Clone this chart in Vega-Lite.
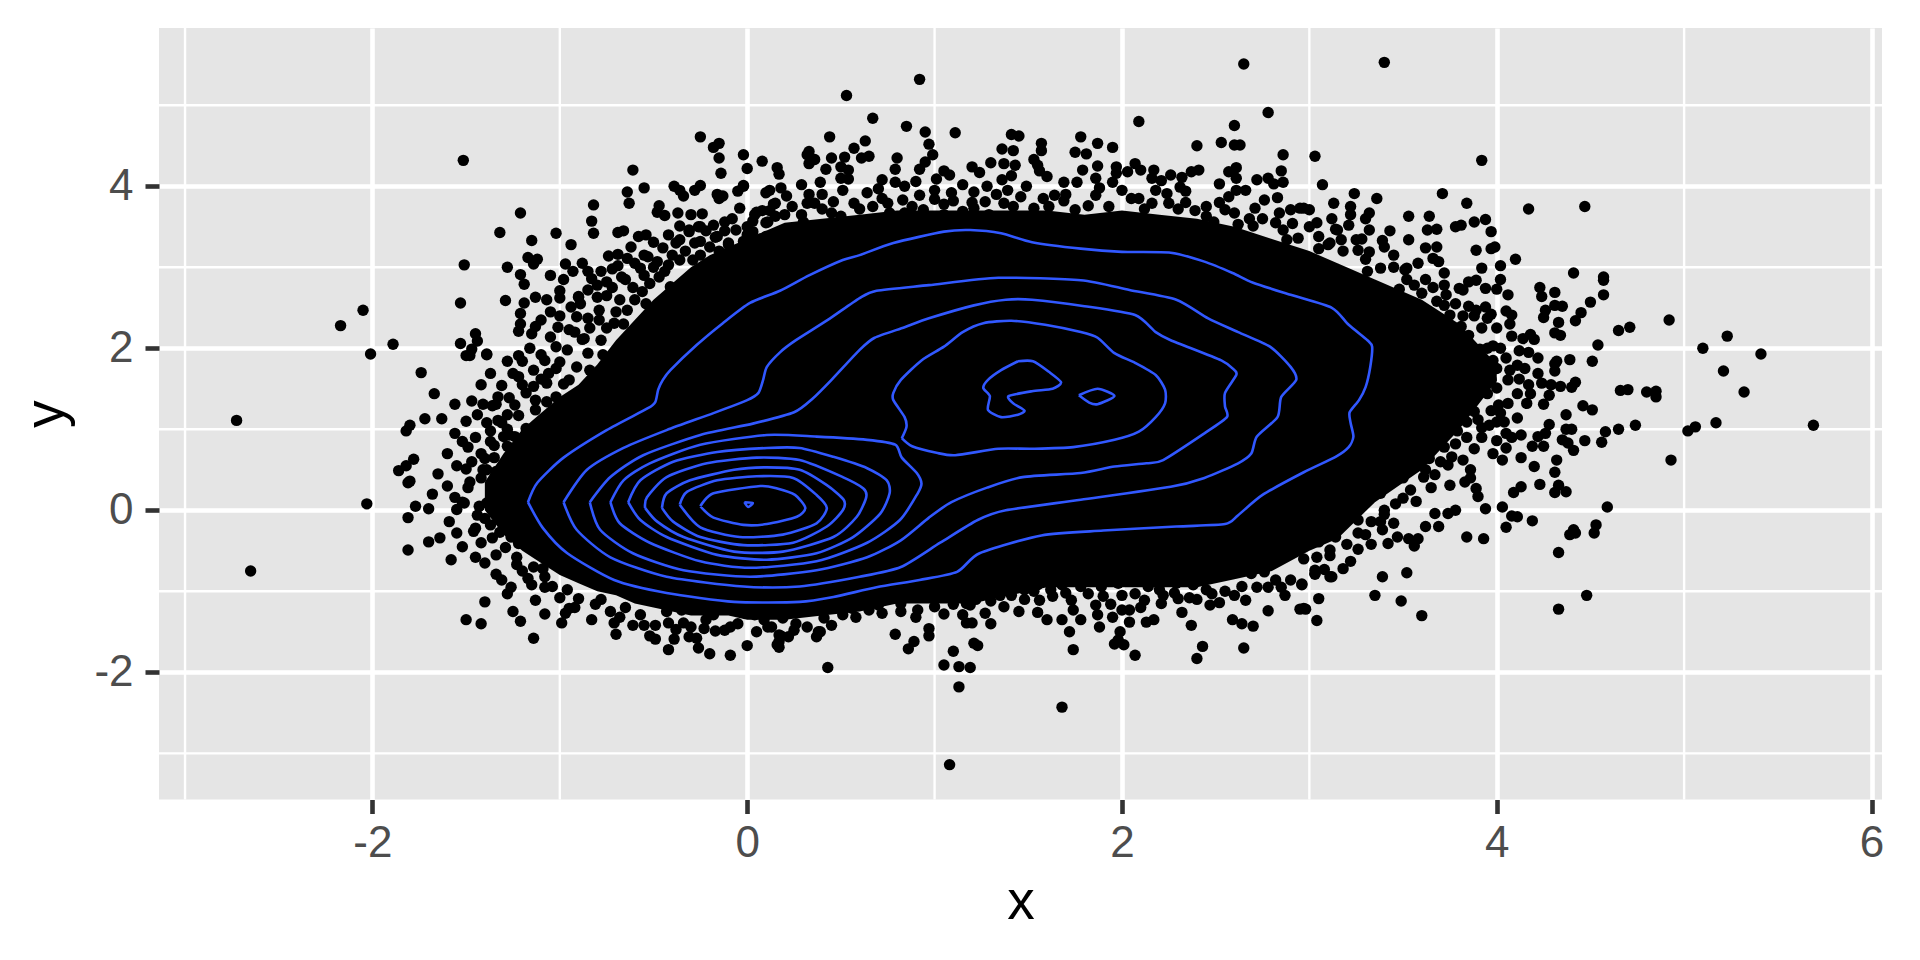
{"$schema":"https://vega.github.io/schema/vega-lite/v6.json","width":1723,"height":771.5,"autosize":{"type":"none"},"padding":{"left":159,"top":28,"right":38,"bottom":160.5},"background":"white","view":{"fill":"#e5e5e5","stroke":null},
"config":{"axisX":{"grid":true,"gridColor":"#ffffff","gridWidth":4.6,"domain":false,"tickColor":"#333333","tickSize":14,"tickWidth":4.6,"labelColor":"#4d4d4d","labelFont":"Liberation Sans","labelFontSize":44,"labelPadding":8,"titleFont":"Liberation Sans","titleFontSize":55,"titleFontWeight":"normal","titleColor":"#000000","titlePadding":10,"labelFlush":false},"axisY":{"grid":true,"gridColor":"#ffffff","gridWidth":4.6,"domain":false,"tickColor":"#333333","tickSize":14,"tickWidth":4.6,"labelColor":"#4d4d4d","labelFont":"Liberation Sans","labelFontSize":44,"labelPadding":12,"titleFont":"Liberation Sans","titleFontSize":55,"titleFontWeight":"normal","titleColor":"#000000","titlePadding":19,"labelFlush":false}},
"datasets":{
"gx":[{"x":-3},{"x":-1},{"x":1},{"x":3},{"x":5}],
"gy":[{"y":-3},{"y":-1},{"y":1},{"y":3},{"y":5}],
"core":[{"x":-1.4,"lo":0,"hi":0.35},{"x":-1.3,"lo":-0.3,"hi":0.7},{"x":-1.2,"lo":-0.5,"hi":1.0},{"x":-1.1,"lo":-0.65,"hi":1.2},{"x":-1.0,"lo":-0.8,"hi":1.4},{"x":-0.9,"lo":-0.9,"hi":1.55},{"x":-0.8,"lo":-1.0,"hi":1.8},{"x":-0.7,"lo":-1.05,"hi":2.1},{"x":-0.6,"lo":-1.15,"hi":2.35},{"x":-0.5,"lo":-1.2,"hi":2.6},{"x":-0.4,"lo":-1.25,"hi":2.8},{"x":-0.3,"lo":-1.3,"hi":3.0},{"x":-0.2,"lo":-1.3,"hi":3.15},{"x":-0.1,"lo":-1.3,"hi":3.25},{"x":0,"lo":-1.35,"hi":3.35},{"x":0.2,"lo":-1.35,"hi":3.55},{"x":0.4,"lo":-1.3,"hi":3.6},{"x":0.6,"lo":-1.25,"hi":3.65},{"x":0.8,"lo":-1.15,"hi":3.7},{"x":1.0,"lo":-1.15,"hi":3.7},{"x":1.2,"lo":-1.15,"hi":3.7},{"x":1.4,"lo":-1.05,"hi":3.7},{"x":1.6,"lo":-0.95,"hi":3.7},{"x":1.8,"lo":-0.95,"hi":3.65},{"x":2.0,"lo":-0.95,"hi":3.7},{"x":2.2,"lo":-0.95,"hi":3.65},{"x":2.4,"lo":-0.95,"hi":3.6},{"x":2.6,"lo":-0.85,"hi":3.5},{"x":2.8,"lo":-0.75,"hi":3.35},{"x":3.0,"lo":-0.5,"hi":3.2},{"x":3.15,"lo":-0.35,"hi":3.05},{"x":3.35,"lo":0.1,"hi":2.85},{"x":3.6,"lo":0.5,"hi":2.6},{"x":3.8,"lo":1.0,"hi":2.3},{"x":3.9,"lo":1.3,"hi":2.05},{"x":4.0,"lo":1.6,"hi":1.8}],
"contours":[
{"g":"L1","o":1,"x":-1.17,"y":0.1},{"g":"L1","o":2,"x":-1.12,"y":0.34},{"g":"L1","o":3,"x":-0.98,"y":0.65},{"g":"L1","o":4,"x":-0.75,"y":0.99},{"g":"L1","o":5,"x":-0.53,"y":1.26},{"g":"L1","o":6,"x":-0.49,"y":1.34},{"g":"L1","o":7,"x":-0.475,"y":1.49},{"g":"L1","o":8,"x":-0.45,"y":1.61},{"g":"L1","o":9,"x":-0.41,"y":1.73},{"g":"L1","o":10,"x":-0.27,"y":2.04},{"g":"L1","o":11,"x":-0.13,"y":2.31},{"g":"L1","o":12,"x":0.015,"y":2.56},{"g":"L1","o":13,"x":0.175,"y":2.71},{"g":"L1","o":14,"x":0.33,"y":2.9},{"g":"L1","o":15,"x":0.51,"y":3.09},{"g":"L1","o":16,"x":0.6,"y":3.15},{"g":"L1","o":17,"x":0.78,"y":3.3},{"g":"L1","o":18,"x":1.05,"y":3.44},{"g":"L1","o":19,"x":1.19,"y":3.46},{"g":"L1","o":20,"x":1.355,"y":3.42},{"g":"L1","o":21,"x":1.52,"y":3.31},{"g":"L1","o":22,"x":1.78,"y":3.23},{"g":"L1","o":23,"x":2.0,"y":3.19},{"g":"L1","o":24,"x":2.26,"y":3.18},{"g":"L1","o":25,"x":2.44,"y":3.07},{"g":"L1","o":26,"x":2.59,"y":2.93},{"g":"L1","o":27,"x":2.7,"y":2.81},{"g":"L1","o":28,"x":2.9,"y":2.66},{"g":"L1","o":29,"x":3.12,"y":2.5},{"g":"L1","o":30,"x":3.21,"y":2.29},{"g":"L1","o":31,"x":3.31,"y":2.1},{"g":"L1","o":32,"x":3.335,"y":2.02},{"g":"L1","o":33,"x":3.325,"y":1.77},{"g":"L1","o":34,"x":3.3,"y":1.52},{"g":"L1","o":35,"x":3.265,"y":1.36},{"g":"L1","o":36,"x":3.215,"y":1.21},{"g":"L1","o":37,"x":3.22,"y":1.08},{"g":"L1","o":38,"x":3.235,"y":0.91},{"g":"L1","o":39,"x":3.21,"y":0.78},{"g":"L1","o":40,"x":3.14,"y":0.66},{"g":"L1","o":41,"x":2.97,"y":0.47},{"g":"L1","o":42,"x":2.75,"y":0.19},{"g":"L1","o":43,"x":2.62,"y":-0.06},{"g":"L1","o":44,"x":2.55,"y":-0.17},{"g":"L1","o":45,"x":2.29,"y":-0.2},{"g":"L1","o":46,"x":1.9,"y":-0.25},{"g":"L1","o":47,"x":1.57,"y":-0.31},{"g":"L1","o":48,"x":1.24,"y":-0.53},{"g":"L1","o":49,"x":1.12,"y":-0.76},{"g":"L1","o":50,"x":0.92,"y":-0.86},{"g":"L1","o":51,"x":0.69,"y":-0.95},{"g":"L1","o":52,"x":0.46,"y":-1.07},{"g":"L1","o":53,"x":0.28,"y":-1.13},{"g":"L1","o":54,"x":-0.07,"y":-1.13},{"g":"L1","o":55,"x":-0.43,"y":-1.02},{"g":"L1","o":56,"x":-0.71,"y":-0.86},{"g":"L1","o":57,"x":-0.96,"y":-0.53},{"g":"L1","o":58,"x":-1.09,"y":-0.22},{"g":"L1","o":59,"x":-1.17,"y":0.1},
{"g":"L2","o":1,"x":-0.98,"y":0.1},{"g":"L2","o":2,"x":-0.855,"y":0.5},{"g":"L2","o":3,"x":-0.66,"y":0.77},{"g":"L2","o":4,"x":-0.43,"y":0.99},{"g":"L2","o":5,"x":-0.18,"y":1.2},{"g":"L2","o":6,"x":0,"y":1.36},{"g":"L2","o":7,"x":0.06,"y":1.45},{"g":"L2","o":8,"x":0.085,"y":1.61},{"g":"L2","o":9,"x":0.105,"y":1.77},{"g":"L2","o":10,"x":0.175,"y":1.95},{"g":"L2","o":11,"x":0.26,"y":2.1},{"g":"L2","o":12,"x":0.43,"y":2.35},{"g":"L2","o":13,"x":0.6,"y":2.62},{"g":"L2","o":14,"x":0.69,"y":2.71},{"g":"L2","o":15,"x":0.97,"y":2.78},{"g":"L2","o":16,"x":1.34,"y":2.87},{"g":"L2","o":17,"x":1.78,"y":2.84},{"g":"L2","o":18,"x":2.04,"y":2.72},{"g":"L2","o":19,"x":2.29,"y":2.6},{"g":"L2","o":20,"x":2.46,"y":2.37},{"g":"L2","o":21,"x":2.62,"y":2.2},{"g":"L2","o":22,"x":2.79,"y":2.02},{"g":"L2","o":23,"x":2.9,"y":1.77},{"g":"L2","o":24,"x":2.93,"y":1.61},{"g":"L2","o":25,"x":2.85,"y":1.4},{"g":"L2","o":26,"x":2.83,"y":1.15},{"g":"L2","o":27,"x":2.72,"y":0.91},{"g":"L2","o":28,"x":2.69,"y":0.7},{"g":"L2","o":29,"x":2.62,"y":0.58},{"g":"L2","o":30,"x":2.44,"y":0.4},{"g":"L2","o":31,"x":2.26,"y":0.29},{"g":"L2","o":32,"x":1.78,"y":0.13},{"g":"L2","o":33,"x":1.38,"y":0},{"g":"L2","o":34,"x":1.23,"y":-0.12},{"g":"L2","o":35,"x":1.03,"y":-0.4},{"g":"L2","o":36,"x":0.82,"y":-0.7},{"g":"L2","o":37,"x":0.6,"y":-0.82},{"g":"L2","o":38,"x":0.28,"y":-0.94},{"g":"L2","o":39,"x":-0.02,"y":-0.94},{"g":"L2","o":40,"x":-0.43,"y":-0.82},{"g":"L2","o":41,"x":-0.73,"y":-0.58},{"g":"L2","o":42,"x":-0.91,"y":-0.24},{"g":"L2","o":43,"x":-0.98,"y":0.1},
{"g":"L3","o":1,"x":-0.84,"y":0.1},{"g":"L3","o":2,"x":-0.73,"y":0.41},{"g":"L3","o":3,"x":-0.555,"y":0.68},{"g":"L3","o":4,"x":-0.25,"y":0.93},{"g":"L3","o":5,"x":0.03,"y":1.07},{"g":"L3","o":6,"x":0.25,"y":1.21},{"g":"L3","o":7,"x":0.35,"y":1.38},{"g":"L3","o":8,"x":0.45,"y":1.61},{"g":"L3","o":9,"x":0.6,"y":1.98},{"g":"L3","o":10,"x":0.68,"y":2.13},{"g":"L3","o":11,"x":0.84,"y":2.26},{"g":"L3","o":12,"x":0.97,"y":2.37},{"g":"L3","o":13,"x":1.21,"y":2.53},{"g":"L3","o":14,"x":1.38,"y":2.6},{"g":"L3","o":15,"x":1.52,"y":2.6},{"g":"L3","o":16,"x":1.8,"y":2.52},{"g":"L3","o":17,"x":2.07,"y":2.41},{"g":"L3","o":18,"x":2.18,"y":2.2},{"g":"L3","o":19,"x":2.26,"y":2.1},{"g":"L3","o":20,"x":2.53,"y":1.85},{"g":"L3","o":21,"x":2.6,"y":1.73},{"g":"L3","o":22,"x":2.61,"y":1.67},{"g":"L3","o":23,"x":2.55,"y":1.45},{"g":"L3","o":24,"x":2.55,"y":1.28},{"g":"L3","o":25,"x":2.56,"y":1.15},{"g":"L3","o":26,"x":2.44,"y":0.95},{"g":"L3","o":27,"x":2.22,"y":0.62},{"g":"L3","o":28,"x":2.13,"y":0.58},{"g":"L3","o":29,"x":1.96,"y":0.54},{"g":"L3","o":30,"x":1.78,"y":0.46},{"g":"L3","o":31,"x":1.47,"y":0.41},{"g":"L3","o":32,"x":1.28,"y":0.28},{"g":"L3","o":33,"x":1.09,"y":0.1},{"g":"L3","o":34,"x":0.97,"y":-0.09},{"g":"L3","o":35,"x":0.82,"y":-0.37},{"g":"L3","o":36,"x":0.64,"y":-0.58},{"g":"L3","o":37,"x":0.37,"y":-0.74},{"g":"L3","o":38,"x":0.015,"y":-0.82},{"g":"L3","o":39,"x":-0.34,"y":-0.74},{"g":"L3","o":40,"x":-0.61,"y":-0.53},{"g":"L3","o":41,"x":-0.785,"y":-0.24},{"g":"L3","o":42,"x":-0.84,"y":0.1},
{"g":"L4r","o":1,"x":0.825,"y":0.89},{"g":"L4r","o":2,"x":0.85,"y":1.03},{"g":"L4r","o":3,"x":0.84,"y":1.15},{"g":"L4r","o":4,"x":0.78,"y":1.36},{"g":"L4r","o":5,"x":0.78,"y":1.45},{"g":"L4r","o":6,"x":0.82,"y":1.61},{"g":"L4r","o":7,"x":0.93,"y":1.85},{"g":"L4r","o":8,"x":1.05,"y":2.02},{"g":"L4r","o":9,"x":1.15,"y":2.2},{"g":"L4r","o":10,"x":1.26,"y":2.31},{"g":"L4r","o":11,"x":1.41,"y":2.34},{"g":"L4r","o":12,"x":1.59,"y":2.29},{"g":"L4r","o":13,"x":1.78,"y":2.2},{"g":"L4r","o":14,"x":1.87,"y":2.13},{"g":"L4r","o":15,"x":1.96,"y":1.94},{"g":"L4r","o":16,"x":2.07,"y":1.82},{"g":"L4r","o":17,"x":2.18,"y":1.67},{"g":"L4r","o":18,"x":2.23,"y":1.49},{"g":"L4r","o":19,"x":2.23,"y":1.32},{"g":"L4r","o":20,"x":2.18,"y":1.15},{"g":"L4r","o":21,"x":2.09,"y":0.97},{"g":"L4r","o":22,"x":1.96,"y":0.87},{"g":"L4r","o":23,"x":1.74,"y":0.78},{"g":"L4r","o":24,"x":1.52,"y":0.76},{"g":"L4r","o":25,"x":1.34,"y":0.76},{"g":"L4r","o":26,"x":1.11,"y":0.68},{"g":"L4r","o":27,"x":1.01,"y":0.71},{"g":"L4r","o":28,"x":0.88,"y":0.79},{"g":"L4r","o":29,"x":0.825,"y":0.89},
{"g":"L4","o":1,"x":-0.73,"y":0.1},{"g":"L4","o":2,"x":-0.66,"y":0.37},{"g":"L4","o":3,"x":-0.52,"y":0.58},{"g":"L4","o":4,"x":-0.25,"y":0.81},{"g":"L4","o":5,"x":0.105,"y":0.93},{"g":"L4","o":6,"x":0.37,"y":0.91},{"g":"L4","o":7,"x":0.64,"y":0.87},{"g":"L4","o":8,"x":0.79,"y":0.81},{"g":"L4","o":9,"x":0.825,"y":0.65},{"g":"L4","o":10,"x":0.905,"y":0.46},{"g":"L4","o":11,"x":0.93,"y":0.33},{"g":"L4","o":12,"x":0.91,"y":0.21},{"g":"L4","o":13,"x":0.815,"y":-0.12},{"g":"L4","o":14,"x":0.64,"y":-0.4},{"g":"L4","o":15,"x":0.37,"y":-0.63},{"g":"L4","o":16,"x":0.015,"y":-0.71},{"g":"L4","o":17,"x":-0.25,"y":-0.63},{"g":"L4","o":18,"x":-0.52,"y":-0.4},{"g":"L4","o":19,"x":-0.68,"y":-0.16},{"g":"L4","o":20,"x":-0.73,"y":0.1},
{"g":"L5","o":1,"x":-0.635,"y":0.1},{"g":"L5","o":2,"x":-0.57,"y":0.37},{"g":"L5","o":3,"x":-0.395,"y":0.6},{"g":"L5","o":4,"x":-0.16,"y":0.72},{"g":"L5","o":5,"x":0.105,"y":0.77},{"g":"L5","o":6,"x":0.28,"y":0.77},{"g":"L5","o":7,"x":0.46,"y":0.66},{"g":"L5","o":8,"x":0.64,"y":0.52},{"g":"L5","o":9,"x":0.745,"y":0.37},{"g":"L5","o":10,"x":0.76,"y":0.21},{"g":"L5","o":11,"x":0.71,"y":-0.04},{"g":"L5","o":12,"x":0.565,"y":-0.33},{"g":"L5","o":13,"x":0.37,"y":-0.53},{"g":"L5","o":14,"x":0.105,"y":-0.61},{"g":"L5","o":15,"x":-0.16,"y":-0.55},{"g":"L5","o":16,"x":-0.43,"y":-0.33},{"g":"L5","o":17,"x":-0.57,"y":-0.12},{"g":"L5","o":18,"x":-0.635,"y":0.1},
{"g":"L6","o":1,"x":-0.545,"y":0.03},{"g":"L6","o":2,"x":-0.535,"y":0.16},{"g":"L6","o":3,"x":-0.43,"y":0.41},{"g":"L6","o":4,"x":-0.215,"y":0.58},{"g":"L6","o":5,"x":0.05,"y":0.65},{"g":"L6","o":6,"x":0.28,"y":0.62},{"g":"L6","o":7,"x":0.51,"y":0.41},{"g":"L6","o":8,"x":0.62,"y":0.27},{"g":"L6","o":9,"x":0.635,"y":0.16},{"g":"L6","o":10,"x":0.585,"y":-0.08},{"g":"L6","o":11,"x":0.46,"y":-0.33},{"g":"L6","o":12,"x":0.19,"y":-0.51},{"g":"L6","o":13,"x":-0.07,"y":-0.51},{"g":"L6","o":14,"x":-0.34,"y":-0.33},{"g":"L6","o":15,"x":-0.48,"y":-0.14},{"g":"L6","o":16,"x":-0.545,"y":0.03},
{"g":"L7","o":1,"x":-0.455,"y":0.03},{"g":"L7","o":2,"x":-0.43,"y":0.21},{"g":"L7","o":3,"x":-0.305,"y":0.37},{"g":"L7","o":4,"x":-0.07,"y":0.5},{"g":"L7","o":5,"x":0.105,"y":0.53},{"g":"L7","o":6,"x":0.28,"y":0.5},{"g":"L7","o":7,"x":0.425,"y":0.31},{"g":"L7","o":8,"x":0.515,"y":0.13},{"g":"L7","o":9,"x":0.51,"y":0},{"g":"L7","o":10,"x":0.425,"y":-0.2},{"g":"L7","o":11,"x":0.245,"y":-0.4},{"g":"L7","o":12,"x":-0.02,"y":-0.43},{"g":"L7","o":13,"x":-0.25,"y":-0.33},{"g":"L7","o":14,"x":-0.395,"y":-0.14},{"g":"L7","o":15,"x":-0.455,"y":0.03},
{"g":"L8","o":1,"x":-0.36,"y":0.07},{"g":"L8","o":2,"x":-0.32,"y":0.23},{"g":"L8","o":3,"x":-0.16,"y":0.37},{"g":"L8","o":4,"x":0.05,"y":0.42},{"g":"L8","o":5,"x":0.245,"y":0.4},{"g":"L8","o":6,"x":0.37,"y":0.19},{"g":"L8","o":7,"x":0.425,"y":0.03},{"g":"L8","o":8,"x":0.37,"y":-0.16},{"g":"L8","o":9,"x":0.19,"y":-0.3},{"g":"L8","o":10,"x":-0.04,"y":-0.33},{"g":"L8","o":11,"x":-0.25,"y":-0.21},{"g":"L8","o":12,"x":-0.36,"y":0.07},
{"g":"L9","o":1,"x":-0.25,"y":0.05},{"g":"L9","o":2,"x":-0.18,"y":0.21},{"g":"L9","o":3,"x":0.07,"y":0.3},{"g":"L9","o":4,"x":0.16,"y":0.27},{"g":"L9","o":5,"x":0.255,"y":0.19},{"g":"L9","o":6,"x":0.31,"y":0.03},{"g":"L9","o":7,"x":0.265,"y":-0.08},{"g":"L9","o":8,"x":0.105,"y":-0.17},{"g":"L9","o":9,"x":-0.02,"y":-0.18},{"g":"L9","o":10,"x":-0.18,"y":-0.09},{"g":"L9","o":11,"x":-0.25,"y":0.05},
{"g":"L10","o":1,"x":-0.015,"y":0.1},{"g":"L10","o":2,"x":0.03,"y":0.09},{"g":"L10","o":3,"x":0.005,"y":0.04},{"g":"L10","o":4,"x":-0.015,"y":0.1},
{"g":"P1","o":1,"x":1.445,"y":1.84},{"g":"P1","o":2,"x":1.525,"y":1.84},{"g":"P1","o":3,"x":1.61,"y":1.71},{"g":"P1","o":4,"x":1.675,"y":1.58},{"g":"P1","o":5,"x":1.63,"y":1.5},{"g":"P1","o":6,"x":1.52,"y":1.47},{"g":"P1","o":7,"x":1.395,"y":1.41},{"g":"P1","o":8,"x":1.42,"y":1.32},{"g":"P1","o":9,"x":1.48,"y":1.23},{"g":"P1","o":10,"x":1.445,"y":1.18},{"g":"P1","o":11,"x":1.355,"y":1.15},{"g":"P1","o":12,"x":1.285,"y":1.24},{"g":"P1","o":13,"x":1.295,"y":1.41},{"g":"P1","o":14,"x":1.26,"y":1.51},{"g":"P1","o":15,"x":1.285,"y":1.61},{"g":"P1","o":16,"x":1.355,"y":1.73},{"g":"P1","o":17,"x":1.445,"y":1.84},
{"g":"P2","o":1,"x":1.77,"y":1.42},{"g":"P2","o":2,"x":1.87,"y":1.5},{"g":"P2","o":3,"x":1.96,"y":1.41},{"g":"P2","o":4,"x":1.87,"y":1.31},{"g":"P2","o":5,"x":1.825,"y":1.33},{"g":"P2","o":6,"x":1.77,"y":1.42}
],
"pts":[{"x":-1.515,"y":4.32},{"x":-1.21,"y":3.67},{"x":-1.32,"y":3.43},{"x":-1.02,"y":3.42},{"x":-1.15,"y":3.33},{"x":-0.94,"y":3.28},{"x":-0.82,"y":3.77},{"x":-0.83,"y":3.57},{"x":-0.82,"y":3.42},{"x":-0.64,"y":3.93},{"x":-0.63,"y":3.79},{"x":-0.61,"y":4.2},{"x":-0.55,"y":3.98},{"x":-0.25,"y":4.61},{"x":-0.15,"y":4.53},{"x":-0.18,"y":4.48},{"x":-0.15,"y":4.35},{"x":-0.14,"y":4.16},{"x":-0.02,"y":4.39},{"x":0.08,"y":4.31},{"x":0,"y":4.22},{"x":0.16,"y":4.23},{"x":-0.39,"y":4.0},{"x":-0.36,"y":3.95},{"x":-0.34,"y":3.88},{"x":-0.28,"y":3.95},{"x":-0.25,"y":4.01},{"x":-0.16,"y":3.9},{"x":-0.13,"y":3.88},{"x":-0.15,"y":3.85},{"x":-0.05,"y":3.94},{"x":-0.02,"y":4.01},{"x":0.1,"y":3.92},{"x":0.12,"y":3.95},{"x":-0.47,"y":3.76},{"x":-0.48,"y":3.68},{"x":-0.44,"y":3.64},{"x":-0.37,"y":3.67},{"x":-0.3,"y":3.65},{"x":-0.24,"y":3.66},{"x":-0.04,"y":3.73},{"x":-0.12,"y":3.56},{"x":-0.06,"y":3.46},{"x":0.14,"y":3.78},{"x":0.04,"y":3.65},{"x":0.03,"y":3.57},{"x":0.11,"y":3.56},{"x":-0.36,"y":3.51},{"x":-0.31,"y":3.44},{"x":-0.26,"y":3.5},{"x":-0.69,"y":3.43},{"x":-0.66,"y":3.45},{"x":-0.58,"y":3.38},{"x":-0.54,"y":3.4},{"x":-0.5,"y":3.31},{"x":-0.45,"y":3.24},{"x":-0.17,"y":3.37},{"x":-0.1,"y":3.28},{"x":-1.17,"y":3.12},{"x":-1.12,"y":3.1},{"x":-1.14,"y":3.04},{"x":-1.51,"y":3.03},{"x":-0.97,"y":3.04},{"x":-1.28,"y":3.0},{"x":-1.21,"y":2.91},{"x":-1.19,"y":2.79},{"x":-0.74,"y":3.14},{"x":-0.69,"y":3.16},{"x":-0.64,"y":3.11},{"x":-0.72,"y":2.98},{"x":-0.69,"y":3.02},{"x":-0.67,"y":2.88},{"x":-0.83,"y":2.86},{"x":-0.75,"y":2.82},{"x":-0.8,"y":2.78},{"x":-0.85,"y":2.72},{"x":-0.8,"y":2.63},{"x":-1.0,"y":2.71},{"x":-1.0,"y":2.62},{"x":-1.13,"y":2.63},{"x":-1.07,"y":2.6},{"x":-1.29,"y":2.59},{"x":-1.19,"y":2.56},{"x":-1.53,"y":2.56},{"x":-1.21,"y":2.43},{"x":-1.21,"y":2.3},{"x":-1.22,"y":2.21},{"x":-1.13,"y":2.27},{"x":-1.15,"y":2.18},{"x":-2.05,"y":2.47},{"x":-2.17,"y":2.28},{"x":-1.89,"y":2.05},{"x":-2.01,"y":1.93},{"x":-1.45,"y":2.18},{"x":-1.44,"y":2.09},{"x":-1.53,"y":2.06},{"x":-1.48,"y":1.91},{"x":-1.39,"y":1.93},{"x":-1.2,"y":1.84},{"x":-1.1,"y":1.92},{"x":-1.05,"y":2.14},{"x":-1.02,"y":2.02},{"x":-1.01,"y":2.26},{"x":-0.95,"y":2.23},{"x":-0.88,"y":2.11},{"x":-0.78,"y":2.1},{"x":-0.9,"y":2.63},{"x":-0.61,"y":2.75},
{"x":-0.9,"y":2.64},{"x":-0.94,"y":2.51},{"x":-0.89,"y":2.55},{"x":-0.91,"y":2.39},{"x":-0.79,"y":2.47},{"x":-0.85,"y":2.37},{"x":-0.79,"y":2.35},{"x":-0.84,"y":2.25},{"x":-0.87,"y":2.12},{"x":-0.71,"y":2.31},{"x":-0.68,"y":2.6},{"x":-0.64,"y":2.47},{"x":-0.54,"y":2.55},{"x":-0.45,"y":2.53},{"x":-0.55,"y":2.9},{"x":-0.53,"y":3.13},{"x":-0.57,"y":2.99},{"x":-0.48,"y":3.07},{"x":-0.42,"y":3.03},{"x":-0.47,"y":2.88},{"x":-0.41,"y":2.76},{"x":-0.36,"y":3.09},{"x":-0.29,"y":3.09},{"x":-0.22,"y":3.01},{"x":-0.15,"y":3.05},{"x":-0.36,"y":3.34},{"x":-0.25,"y":3.32},{"x":-0.31,"y":3.46},{"x":-0.25,"y":3.5},{"x":-0.16,"y":3.38},{"x":-0.1,"y":3.3},{"x":-0.02,"y":3.32},{"x":0.03,"y":3.44},{"x":-0.96,"y":1.98},{"x":-1.0,"y":1.83},{"x":-0.95,"y":1.61},{"x":-0.91,"y":1.77},{"x":-0.85,"y":1.94},{"x":-0.77,"y":1.92},{"x":-0.84,"y":1.73},{"x":-0.8,"y":1.69},{"x":-1.22,"y":1.65},{"x":-1.06,"y":1.69},{"x":-1.14,"y":1.73},{"x":-1.07,"y":1.57},{"x":-1.14,"y":1.53},{"x":-1.02,"y":1.4},{"x":-1.07,"y":1.34},{"x":-1.13,"y":1.36},{"x":-1.13,"y":1.24},{"x":-1.27,"y":1.39},{"x":-1.33,"y":1.4},{"x":-1.36,"y":1.29},{"x":-1.33,"y":1.11},{"x":-1.28,"y":1.18},{"x":-1.22,"y":1.17},{"x":-1.37,"y":0.98},{"x":-1.18,"y":1.01},{"x":-1.3,"y":0.91},{"x":-1.28,"y":0.79},{"x":-1.24,"y":0.91},{"x":-1.2,"y":0.64},{"x":-1.12,"y":0.87},{"x":-1.4,"y":0.64},{"x":-1.39,"y":0.5},{"x":-1.25,"y":0.5},{"x":-1.31,"y":0.44},{"x":-1.41,"y":0.5},{"x":-1.39,"y":1.92},{"x":-1.42,"y":1.55},{"x":-0.98,"y":1.56},{"x":-1.02,"y":1.11},{"x":-1.07,"y":1.03},{"x":-0.68,"y":2.02},{"x":-0.63,"y":2.1},{"x":-0.25,"y":3.15},{"x":-0.15,"y":3.2},{"x":0,"y":3.4},{"x":0.07,"y":3.35},{"x":0.1,"y":3.38},
{"x":-2.03,"y":0.08},{"x":-1.81,"y":0.34},{"x":-1.77,"y":0.05},{"x":-1.81,"y":-0.09},{"x":-1.49,"y":0.28},{"x":-1.51,"y":0.09},{"x":-1.55,"y":0.01},{"x":-1.59,"y":-0.14},{"x":-1.39,"y":0.09},{"x":-1.43,"y":0.05},{"x":-1.44,"y":-0.06},{"x":-1.45,"y":-0.22},{"x":-1.46,"y":-0.26},{"x":-1.32,"y":-0.27},{"x":-1.36,"y":-0.34},{"x":-1.42,"y":-0.4},{"x":-1.64,"y":-0.34},{"x":-1.7,"y":-0.39},{"x":-1.81,"y":-0.49},{"x":-1.58,"y":-0.61},{"x":-1.45,"y":-0.58},{"x":-1.4,"y":-0.65},{"x":-1.34,"y":-0.79},{"x":-1.31,"y":-0.86},{"x":-1.26,"y":-0.95},{"x":-1.28,"y":-1.03},{"x":-1.4,"y":-1.13},{"x":-1.13,"y":-1.11},{"x":-1.08,"y":-0.95},{"x":-1.04,"y":-0.94},{"x":-1.17,"y":-0.84},{"x":-1.08,"y":-0.82},{"x":-1.14,"y":-0.7},{"x":-1.09,"y":-0.72},{"x":-1.23,"y":-0.58},{"x":-1.23,"y":-0.67},{"x":-1.29,"y":-0.46},{"x":-1.26,"y":-0.33},{"x":-1.22,"y":-0.41},{"x":-1.26,"y":-0.12},{"x":-1.34,"y":0.21},{"x":-1.29,"y":0.25},{"x":-1.25,"y":-1.25},{"x":-1.21,"y":-1.37},{"x":-1.5,"y":-1.35},{"x":-1.42,"y":-1.4},{"x":-1.08,"y":-1.28},{"x":-0.99,"y":-1.39},{"x":-0.97,"y":-1.27},{"x":-0.95,"y":-1.21},{"x":-1.14,"y":-1.58},{"x":-0.83,"y":-1.35},{"x":-0.81,"y":-1.16},{"x":-0.9,"y":-1.09},{"x":-0.96,"y":-0.98},{"x":-0.73,"y":-1.25},{"x":-0.71,"y":-1.39},{"x":-0.65,"y":-1.2},{"x":-0.61,"y":-1.42},{"x":-0.7,"y":-1.53},{"x":-0.57,"y":-1.29},{"x":-0.52,"y":-1.55},{"x":-0.49,"y":-1.42},{"x":-0.49,"y":-1.59},{"x":-0.42,"y":-1.39},{"x":-0.39,"y":-1.59},{"x":-0.42,"y":-1.72},{"x":-0.34,"y":-1.39},{"x":-0.31,"y":-1.56},{"x":-0.27,"y":-1.58},{"x":-0.26,"y":-1.7},{"x":-0.2,"y":-1.77},{"x":-0.09,"y":-1.79},{"x":0,"y":-1.67},{"x":-0.23,"y":-1.46},{"x":-0.17,"y":-1.49},{"x":-0.12,"y":-1.48},{"x":-0.09,"y":-1.44},{"x":-0.3,"y":-1.44},{"x":-0.43,"y":-1.25},{"x":-0.35,"y":-1.23},{"x":-0.28,"y":-1.21},{"x":-0.18,"y":-1.29},{"x":-0.01,"y":-1.27},{"x":0.09,"y":-1.35},{"x":0.13,"y":-1.44},{"x":0.17,"y":-1.54},{"x":0.16,"y":-1.66},{"x":-2.65,"y":-0.75},{"x":-2.725,"y":1.11},{"x":-1.86,"y":0.49},{"x":-1.82,"y":0.55},{"x":-1.8,"y":0.36},{"x":-1.78,"y":0.63},{"x":-1.74,"y":1.7},{"x":-1.67,"y":1.44},{"x":-1.82,"y":0.98},{"x":-1.8,"y":1.05},{"x":-1.72,"y":1.13},{"x":-1.63,"y":1.13},{"x":-1.56,"y":1.31},{"x":-1.47,"y":1.35},{"x":-1.52,"y":0.85},{"x":-1.49,"y":0.78},{"x":-1.5,"y":0.51},{"x":-1.47,"y":0.6},{"x":-1.56,"y":0.16},{"x":-1.52,"y":0.1},{"x":-1.7,"y":0.02},{"x":-1.39,"y":1.08},{"x":-1.31,"y":1.08},{"x":-1.37,"y":0.85},{"x":-1.27,"y":0.93},{"x":-1.42,"y":0.4},{"x":-1.34,"y":0.48},{"x":-1.24,"y":0.7},{"x":-1.41,"y":1.31},{"x":-1.34,"y":1.31},{"x":-1.31,"y":1.54},{"x":-1.37,"y":1.69},{"x":-1.25,"y":1.69},{"x":-1.47,"y":1.99},{"x":-1.5,"y":1.91},{"x":-1.28,"y":1.84},{"x":-1.22,"y":1.91},
{"x":0.53,"y":5.12},{"x":0.92,"y":5.32},{"x":2.65,"y":5.51},{"x":2.78,"y":4.91},{"x":2.09,"y":4.8},{"x":0.67,"y":4.84},{"x":0.85,"y":4.74},{"x":0.95,"y":4.67},{"x":1.11,"y":4.66},{"x":0.44,"y":4.61},{"x":0.63,"y":4.56},{"x":0.57,"y":4.47},{"x":0.52,"y":4.36},{"x":0.61,"y":4.35},{"x":0.65,"y":4.37},{"x":0.45,"y":4.35},{"x":0.33,"y":4.43},{"x":0.32,"y":4.39},{"x":0.36,"y":4.33},{"x":0.33,"y":4.28},{"x":0.17,"y":4.15},{"x":0.42,"y":4.21},{"x":0.5,"y":4.24},{"x":0.54,"y":4.2},{"x":0.5,"y":4.1},{"x":0.54,"y":4.09},{"x":0.8,"y":4.35},{"x":0.79,"y":4.21},{"x":0.97,"y":4.52},{"x":0.99,"y":4.39},{"x":0.95,"y":4.3},{"x":0.92,"y":4.21},{"x":1.05,"y":4.19},{"x":1.08,"y":4.14},{"x":1.01,"y":4.09},{"x":1.2,"y":4.24},{"x":1.24,"y":4.17},{"x":1.3,"y":4.29},{"x":1.37,"y":4.28},{"x":1.43,"y":4.26},{"x":1.41,"y":4.64},{"x":1.45,"y":4.62},{"x":1.36,"y":4.46},{"x":1.42,"y":4.44},{"x":1.57,"y":4.53},{"x":1.57,"y":4.44},{"x":1.53,"y":4.33},{"x":1.55,"y":4.26},{"x":1.56,"y":4.19},{"x":1.6,"y":4.12},{"x":1.78,"y":4.61},{"x":1.75,"y":4.42},{"x":1.81,"y":4.4},{"x":1.87,"y":4.53},{"x":1.95,"y":4.48},{"x":1.79,"y":4.2},{"x":1.87,"y":4.25},{"x":1.86,"y":4.1},{"x":1.76,"y":4.05},{"x":1.69,"y":4.05},{"x":1.97,"y":4.24},{"x":2.07,"y":4.28},{"x":2.1,"y":4.2},{"x":2.03,"y":4.18},{"x":1.97,"y":4.16},{"x":2.17,"y":4.2},{"x":2.26,"y":4.14},{"x":2.21,"y":4.07},{"x":2.16,"y":4.1},{"x":2.32,"y":4.11},{"x":2.37,"y":4.18},{"x":2.41,"y":4.2},{"x":2.31,"y":3.99},{"x":2.4,"y":4.5},{"x":2.53,"y":4.54},{"x":2.6,"y":4.75},{"x":2.6,"y":4.51},{"x":2.63,"y":4.51},{"x":2.86,"y":4.39},{"x":3.03,"y":4.37},{"x":2.57,"y":4.18},{"x":2.61,"y":4.23},{"x":2.61,"y":4.1},{"x":2.52,"y":4.03},{"x":2.72,"y":4.08},{"x":2.78,"y":4.1},{"x":2.85,"y":4.19},{"x":2.81,"y":4.03},{"x":2.86,"y":4.05},{"x":3.07,"y":4.02},{"x":3.13,"y":3.79},{"x":2.61,"y":3.95},{"x":2.66,"y":3.95},{"x":2.57,"y":3.87},{"x":2.76,"y":3.83},{"x":2.83,"y":3.86},{"x":2.71,"y":3.73},{"x":3.0,"y":3.71},{"x":2.95,"y":3.73},{"x":2.9,"y":3.71},{"x":3.04,"y":3.55},{"x":2.91,"y":3.54},{"x":2.84,"y":3.67},{"x":2.55,"y":3.71},{"x":2.6,"y":3.67},{"x":2.39,"y":3.7},{"x":2.45,"y":3.63},{"x":2.49,"y":3.56},{"x":2.34,"y":3.8},{"x":2.34,"y":3.94},{"x":2.24,"y":3.91},{"x":2.18,"y":3.95},{"x":2.25,"y":3.79},{"x":2.16,"y":3.79},{"x":2.09,"y":3.85},{"x":2.0,"y":3.95},{"x":1.86,"y":3.89},{"x":1.82,"y":3.76},{"x":1.75,"y":3.71},{"x":1.69,"y":3.82},{"x":1.64,"y":3.89},{"x":1.53,"y":3.73},{"x":1.61,"y":3.75},{"x":1.49,"y":4.0},{"x":1.46,"y":3.87},{"x":1.39,"y":3.95},{"x":1.36,"y":4.08},{"x":1.41,"y":4.13},{"x":1.37,"y":3.79},{"x":1.27,"y":3.81},{"x":1.28,"y":4.0},{"x":1.21,"y":3.93},{"x":1.15,"y":4.02},{"x":1.09,"y":3.92},{"x":1.1,"y":3.82},{"x":1.0,"y":3.95},{"x":1.0,"y":3.84},{"x":0.92,"y":3.89},{"x":0.9,"y":4.06},{"x":0.84,"y":4.0},{"x":0.79,"y":4.05},{"x":0.72,"y":4.08},{"x":0.7,"y":3.97},{"x":0.64,"y":3.92},{"x":0.83,"y":3.83},{"x":0.75,"y":3.79},{"x":0.76,"y":3.67},{"x":0.67,"y":3.75},{"x":0.57,"y":3.79},{"x":0.51,"y":3.95},{"x":0.46,"y":3.81},{"x":0.45,"y":3.67},{"x":0.5,"y":3.63},{"x":0.36,"y":3.79},{"x":0.32,"y":3.79},{"x":0.29,"y":4.02},{"x":0.33,"y":3.9},{"x":0.39,"y":4.05},{"x":0.18,"y":3.98},{"x":0.21,"y":3.88},{"x":0.15,"y":3.79},{"x":0.15,"y":3.63},{"x":0.2,"y":3.65},{"x":0.29,"y":3.65},{"x":0.3,"y":3.56},{"x":0.1,"y":3.55},{"x":-0.02,"y":4.0},{"x":1.21,"y":3.73},{"x":1.15,"y":3.69},{"x":1.29,"y":3.65},{"x":1.05,"y":3.65},{"x":0.94,"y":3.71},{"x":1.37,"y":3.62},{"x":0.84,"y":3.67},{"x":3.15,"y":3.46},{"x":3.11,"y":3.3},{"x":2.88,"y":3.34},{"x":2.94,"y":3.36},{"x":2.7,"y":3.51},{"x":2.62,"y":3.53},{"x":2.86,"y":3.46},
{"x":3.4,"y":5.53},{"x":3.92,"y":4.32},{"x":3.24,"y":3.91},{"x":3.36,"y":3.85},{"x":3.22,"y":3.75},{"x":3.22,"y":3.65},{"x":3.32,"y":3.67},{"x":3.3,"y":3.6},{"x":2.97,"y":3.73},{"x":3.53,"y":3.63},{"x":3.64,"y":3.63},{"x":3.71,"y":3.91},{"x":3.84,"y":3.79},{"x":4.17,"y":3.72},{"x":4.47,"y":3.75},{"x":3.94,"y":3.59},{"x":3.88,"y":3.56},{"x":3.81,"y":3.52},{"x":3.78,"y":3.5},{"x":3.68,"y":3.47},{"x":3.63,"y":3.46},{"x":3.97,"y":3.44},{"x":3.43,"y":3.45},{"x":3.53,"y":3.34},{"x":3.21,"y":3.52},{"x":3.32,"y":3.46},{"x":3.14,"y":3.47},{"x":3.17,"y":3.34},{"x":3.25,"y":3.34},{"x":3.39,"y":3.33},{"x":3.4,"y":3.25},{"x":3.32,"y":3.19},{"x":3.26,"y":3.21},{"x":3.1,"y":3.28},{"x":3.05,"y":3.23},{"x":3.62,"y":3.24},{"x":3.68,"y":3.25},{"x":3.89,"y":3.21},{"x":3.97,"y":3.23},{"x":3.99,"y":3.25},{"x":4.1,"y":3.1},{"x":4.02,"y":3.02},{"x":3.92,"y":2.99},{"x":3.66,"y":3.11},{"x":3.69,"y":3.07},{"x":3.72,"y":2.93},{"x":3.51,"y":2.97},{"x":3.52,"y":2.99},{"x":3.38,"y":2.99},{"x":3.31,"y":2.95},{"x":4.41,"y":2.93},{"x":4.57,"y":2.88},{"x":4.57,"y":2.84},{"x":4.57,"y":2.66},{"x":4.5,"y":2.57},{"x":4.45,"y":2.44},{"x":4.42,"y":2.34},{"x":4.23,"y":2.75},{"x":4.24,"y":2.64},{"x":4.31,"y":2.69},{"x":4.31,"y":2.53},{"x":4.35,"y":2.52},{"x":4.26,"y":2.47},{"x":4.25,"y":2.38},{"x":4.33,"y":2.32},{"x":4.31,"y":2.19},{"x":4.34,"y":2.16},{"x":4.02,"y":2.85},{"x":3.94,"y":2.74},{"x":4.0,"y":2.73},{"x":4.06,"y":2.66},{"x":3.89,"y":2.84},{"x":3.85,"y":2.82},{"x":3.82,"y":2.72},{"x":3.8,"y":2.74},{"x":3.66,"y":2.75},{"x":3.72,"y":2.78},{"x":3.56,"y":2.78},{"x":3.48,"y":2.73},{"x":3.73,"y":2.66},{"x":3.68,"y":2.58},{"x":3.75,"y":2.41},{"x":3.72,"y":2.53},{"x":3.85,"y":2.52},{"x":3.89,"y":2.47},{"x":3.94,"y":2.51},{"x":3.97,"y":2.42},{"x":3.95,"y":2.37},{"x":4.05,"y":2.46},{"x":4.08,"y":2.41},{"x":4.07,"y":2.3},{"x":4.18,"y":2.17},{"x":4.14,"y":2.12},{"x":4.2,"y":2.11},{"x":4.54,"y":2.04},{"x":4.65,"y":2.22},{"x":4.71,"y":2.26},{"x":4.92,"y":2.35},{"x":5.1,"y":2.0},{"x":5.23,"y":2.15},{"x":5.41,"y":1.93},{"x":3.98,"y":2.03},{"x":3.95,"y":2.0},{"x":3.91,"y":1.99},{"x":4.12,"y":1.97},{"x":4.17,"y":1.95},{"x":4.22,"y":1.88},{"x":4.32,"y":1.84},{"x":4.39,"y":1.86},{"x":4.51,"y":1.84},{"x":3.85,"y":2.16},{"x":3.81,"y":2.27},
{"x":5.21,"y":1.72},{"x":5.32,"y":1.46},{"x":5.69,"y":1.05},{"x":5.17,"y":1.08},{"x":5.06,"y":1.03},{"x":5.02,"y":0.98},{"x":4.93,"y":0.62},{"x":4.74,"y":1.05},{"x":4.65,"y":1.0},{"x":4.58,"y":0.97},{"x":4.56,"y":0.84},{"x":4.47,"y":0.86},{"x":4.41,"y":0.74},{"x":4.4,"y":1.0},{"x":4.37,"y":1.0},{"x":4.51,"y":1.24},{"x":4.46,"y":1.29},{"x":4.66,"y":1.48},{"x":4.7,"y":1.49},{"x":4.8,"y":1.46},{"x":4.85,"y":1.47},{"x":4.85,"y":1.4},{"x":4.31,"y":1.81},{"x":4.31,"y":1.72},{"x":4.42,"y":1.58},{"x":4.4,"y":1.52},{"x":4.34,"y":1.53},{"x":4.29,"y":1.55},{"x":4.28,"y":1.42},{"x":4.25,"y":1.31},{"x":4.18,"y":1.44},{"x":4.16,"y":1.32},{"x":4.11,"y":1.44},{"x":4.06,"y":1.32},{"x":4.01,"y":1.3},{"x":4.37,"y":1.18},{"x":4.28,"y":1.06},{"x":4.26,"y":0.95},{"x":4.22,"y":0.91},{"x":4.19,"y":0.79},{"x":4.25,"y":0.79},{"x":4.35,"y":0.87},{"x":4.38,"y":0.83},{"x":4.11,"y":1.14},{"x":4.13,"y":0.93},{"x":4.08,"y":0.9},{"x":4.04,"y":1.09},{"x":4.0,"y":1.09},{"x":4.05,"y":0.95},{"x":3.97,"y":1.23},{"x":3.88,"y":1.22},{"x":3.84,"y":1.09},{"x":3.92,"y":1.02},{"x":3.84,"y":0.9},{"x":3.79,"y":0.98},{"x":4.0,"y":0.86},{"x":4.05,"y":0.77},{"x":3.98,"y":0.7},{"x":4.03,"y":0.62},{"x":4.13,"y":0.65},{"x":4.2,"y":0.54},{"x":3.88,"y":0.76},{"x":3.72,"y":0.78},{"x":3.76,"y":0.66},{"x":3.74,"y":0.56},{"x":3.64,"y":0.64},{"x":3.58,"y":0.58},{"x":3.53,"y":0.54},{"x":4.32,"y":0.62},{"x":4.31,"y":0.47},{"x":4.23,"y":0.32},{"x":4.13,"y":0.29},{"x":4.09,"y":0.22},{"x":4.33,"y":0.31},{"x":4.37,"y":0.23},{"x":4.31,"y":0.22},{"x":3.86,"y":0.5},{"x":3.86,"y":0.4},{"x":3.83,"y":0.35},{"x":3.67,"y":0.44},{"x":3.61,"y":0.41},{"x":3.65,"y":0.28},{"x":3.75,"y":0.31},{"x":3.89,"y":0.27},{"x":3.9,"y":0.17},{"x":3.94,"y":0.02},{"x":4.03,"y":0.04},{"x":4.08,"y":-0.07},{"x":4.11,"y":-0.08},{"x":4.19,"y":-0.13},{"x":4.05,"y":-0.21},{"x":4.59,"y":0.04},{"x":4.53,"y":-0.18},{"x":4.52,"y":-0.28},{"x":4.41,"y":-0.24},{"x":4.39,"y":-0.3},{"x":4.42,"y":-0.28},{"x":4.33,"y":-0.52},{"x":4.48,"y":-1.05},{"x":4.33,"y":-1.22},{"x":3.84,"y":-0.33},{"x":3.93,"y":-0.35},{"x":3.69,"y":-0.2},{"x":3.62,"y":-0.2},{"x":3.67,"y":-0.04},{"x":3.78,"y":0},{"x":3.74,"y":-0.04},{"x":3.45,"y":-0.16},{"x":3.39,"y":-0.24},{"x":3.38,"y":-0.14},{"x":3.33,"y":-0.14},{"x":3.26,"y":-0.12},{"x":3.26,"y":-0.28},{"x":3.26,"y":-0.48},{"x":3.33,"y":-0.42},{"x":3.42,"y":-0.41},{"x":3.47,"y":-0.33},{"x":3.53,"y":-0.35},{"x":3.58,"y":-0.35},{"x":3.56,"y":-0.44},{"x":3.14,"y":-0.33},{"x":3.08,"y":-0.22},{"x":3.05,"y":-0.39},{"x":3.11,"y":-0.49},{"x":3.11,"y":-0.56},{"x":3.04,"y":-0.58},{"x":2.97,"y":-0.6},{"x":3.22,"y":-0.63},{"x":3.39,"y":-0.82},{"x":3.52,"y":-0.77},{"x":3.03,"y":-0.74},{"x":3.08,"y":-0.73},{"x":3.11,"y":-0.82},{"x":3.03,"y":-0.79},{"x":2.96,"y":-0.91},{"x":3.35,"y":-1.05},{"x":3.49,"y":-1.12},{"x":3.6,"y":-1.3},{"x":3.05,"y":-1.09},{"x":2.97,"y":-1.21},{"x":3.04,"y":-1.36},{"x":3.4,"y":0},{"x":3.57,"y":0.11},{"x":3.5,"y":0.4},{"x":3.54,"y":0.25},{"x":3.38,"y":0.21},{"x":3.95,"y":1.44},{"x":3.9,"y":1.53},{"x":3.97,"y":1.61},{"x":4.0,"y":1.51},{"x":4.07,"y":1.73},{"x":4.11,"y":1.79},{"x":4.06,"y":1.61},{"x":4.22,"y":1.69},{"x":4.24,"y":1.57},{"x":4.17,"y":1.55},{"x":3.83,"y":1.28},{"x":3.75,"y":1.07},{"x":3.67,"y":0.83},
{"x":1.08,"y":-3.14},{"x":1.68,"y":-2.43},{"x":1.13,"y":-2.18},{"x":0.43,"y":-1.94},{"x":1.05,"y":-1.91},{"x":1.13,"y":-1.93},{"x":1.19,"y":-1.94},{"x":1.1,"y":-1.74},{"x":1.21,"y":-1.64},{"x":1.23,"y":-1.67},{"x":1.74,"y":-1.72},{"x":1.96,"y":-1.65},{"x":1.98,"y":-1.6},{"x":2.01,"y":-1.66},{"x":1.99,"y":-1.5},{"x":2.07,"y":-1.79},{"x":2.4,"y":-1.83},{"x":2.43,"y":-1.68},{"x":2.65,"y":-1.7},{"x":0.17,"y":-1.69},{"x":0.17,"y":-1.62},{"x":0.22,"y":-1.56},{"x":0.18,"y":-1.55},{"x":0.37,"y":-1.56},{"x":0.39,"y":-1.5},{"x":0.79,"y":-1.53},{"x":0.86,"y":-1.71},{"x":0.89,"y":-1.62},{"x":0.97,"y":-1.55},{"x":0.97,"y":-1.46},{"x":1.17,"y":-1.39},{"x":1.2,"y":-1.39},{"x":1.15,"y":-1.29},{"x":1.19,"y":-1.17},{"x":1.17,"y":-1.15},{"x":1.3,"y":-1.4},{"x":1.27,"y":-1.27},{"x":1.37,"y":-1.19},{"x":1.45,"y":-1.25},{"x":1.41,"y":-1.05},{"x":1.48,"y":-0.98},{"x":1.55,"y":-1.26},{"x":1.6,"y":-1.35},{"x":1.56,"y":-1.11},{"x":1.63,"y":-1.06},{"x":1.72,"y":-1.5},{"x":1.68,"y":-1.35},{"x":1.73,"y":-1.11},{"x":1.74,"y":-1.23},{"x":1.78,"y":-1.35},{"x":1.86,"y":-1.17},{"x":1.87,"y":-1.29},{"x":1.88,"y":-1.44},{"x":1.94,"y":-1.16},{"x":1.95,"y":-1.32},{"x":2.0,"y":-1.23},{"x":2.04,"y":-1.23},{"x":2.04,"y":-1.38},{"x":2.13,"y":-1.38},{"x":2.17,"y":-1.35},{"x":2.12,"y":-1.11},{"x":2.07,"y":-1.03},{"x":2.21,"y":-1.15},{"x":2.22,"y":-1.05},{"x":2.3,"y":-1.09},{"x":2.36,"y":-1.08},{"x":2.32,"y":-1.26},{"x":2.37,"y":-1.42},{"x":2.47,"y":-1.17},{"x":2.52,"y":-1.14},{"x":2.45,"y":-0.98},{"x":2.59,"y":-1.35},{"x":2.64,"y":-1.4},{"x":2.7,"y":-1.43},{"x":2.66,"y":-1.11},{"x":2.78,"y":-1.24},{"x":2.87,"y":-1.05},{"x":2.95,"y":-1.22},{"x":2.98,"y":-1.22},{"x":2.64,"y":-0.94},{"x":1.41,"y":-0.9},{"x":1.55,"y":-0.92},{"x":1.68,"y":-0.92},{"x":1.72,"y":-0.84},{"x":1.78,"y":-0.94},{"x":1.89,"y":-0.94},{"x":1.98,"y":-0.9},{"x":2.14,"y":-0.94},{"x":2.29,"y":-0.9},{"x":2.38,"y":-0.92},{"x":2.48,"y":-1.03},{"x":2.82,"y":-0.86},{"x":2.9,"y":-0.86},{"x":2.96,"y":-0.92},{"x":3.03,"y":-0.78},{"x":3.12,"y":-0.82},{"x":2.76,"y":-0.76},{"x":2.69,"y":-0.78},{"x":0.82,"y":-1.15},{"x":0.82,"y":-1.25},{"x":0.91,"y":-1.23},{"x":1.0,"y":-1.19},{"x":1.05,"y":-1.02},{"x":1.13,"y":-1.02},{"x":1.27,"y":-0.94},{"x":1.35,"y":-1.05},{"x":0.65,"y":-1.23},{"x":0.7,"y":-1.17},{"x":0.56,"y":-1.21},{"x":0.51,"y":-1.29},{"x":0.41,"y":-1.33},{"x":0.38,"y":-1.5},{"x":0.26,"y":-1.4},{"x":0.32,"y":-1.44},{"x":0.11,"y":-1.44},{"x":0.04,"y":-1.29},{"x":0.19,"y":-1.33},
{"x":-1.05,"y":2.9},{"x":-0.98,"y":2.85},{"x":-0.93,"y":2.95},{"x":-0.88,"y":3.05},{"x":-0.85,"y":2.95},{"x":-0.78,"y":2.95},{"x":-0.62,"y":3.25},{"x":-0.6,"y":3.05},{"x":-0.55,"y":3.15},{"x":-0.5,"y":3.0},{"x":-0.44,"y":2.95},{"x":-0.4,"y":3.15},{"x":-0.38,"y":3.3},{"x":-0.33,"y":3.2},{"x":-0.42,"y":3.4},{"x":-0.28,"y":3.3},{"x":-0.2,"y":3.25},{"x":-0.22,"y":3.45},{"x":-0.18,"y":3.52},{"x":-0.12,"y":3.45},{"x":-0.08,"y":3.6},{"x":0,"y":3.5},{"x":0.05,"y":3.68},{"x":0.12,"y":3.7},{"x":-0.75,"y":2.65},{"x":-0.72,"y":2.75},{"x":-0.65,"y":2.85},{"x":-0.6,"y":2.6},{"x":-0.56,"y":2.7},{"x":-0.52,"y":2.8},{"x":-0.7,"y":2.45},{"x":-0.75,"y":2.25},{"x":-0.66,"y":2.3},{"x":-0.92,"y":2.2},{"x":-1.0,"y":2.4},{"x":-1.05,"y":2.45},{"x":-1.1,"y":2.35},{"x":-1.16,"y":2.0},{"x":-1.08,"y":1.85},{"x":-1.02,"y":1.75},{"x":-1.18,"y":1.45},{"x":-1.1,"y":1.62},{"x":-1.24,"y":1.3},{"x":-1.2,"y":1.55},{"x":-1.28,"y":1.0},{"x":-1.35,"y":0.8},{"x":-1.45,"y":0.9},{"x":-1.44,"y":1.18},{"x":-1.5,"y":1.1},{"x":-1.56,"y":0.95},{"x":-1.6,"y":0.7},{"x":-1.55,"y":0.55},{"x":-1.65,"y":0.45},{"x":-1.6,"y":0.3},{"x":-1.68,"y":0.2},{"x":-1.42,"y":0.7},{"x":-1.48,"y":0.35},{"x":-1.35,"y":0.65},{"x":-1.35,"y":0.12},{"x":-1.4,"y":-0.1},{"x":-1.37,"y":-0.18},{"x":-1.3,"y":-0.05},{"x":-1.55,"y":-0.28},{"x":-1.52,"y":-0.45},{"x":-1.34,"y":-0.55},{"x":-1.2,"y":-0.75},{"x":-1.15,"y":-0.92},{"x":-1.0,"y":-1.08},{"x":-0.92,"y":-1.2},{"x":-0.78,"y":-1.1},{"x":-0.68,"y":-1.32},{"x":-0.55,"y":-1.42},{"x":-0.38,"y":-1.47},{"x":-0.22,"y":-1.35},{"x":-0.05,"y":-1.4},{"x":0.05,"y":-1.5},{"x":0.25,"y":-1.48},{"x":0.45,"y":-1.42},{"x":0.58,"y":-1.32},{"x":0.72,"y":-1.27},{"x":0.9,"y":-1.32},{"x":1.05,"y":-1.28},{"x":1.1,"y":-1.16},{"x":1.22,"y":-1.1},{"x":1.3,"y":-1.12},{"x":1.48,"y":-1.1},{"x":1.53,"y":-1.0},{"x":1.62,"y":-0.98},{"x":1.7,"y":-1.02},{"x":1.82,"y":-1.03},{"x":1.9,"y":-1.06},{"x":2.0,"y":-1.05},{"x":2.1,"y":-1.2},{"x":2.2,"y":-0.98},{"x":2.28,"y":-1.02},{"x":2.4,"y":-1.1},{"x":2.55,"y":-1.0},{"x":2.6,"y":-1.05},{"x":2.72,"y":-0.95},{"x":2.78,"y":-0.95},{"x":2.85,"y":-0.95},{"x":3.18,"y":-0.72},{"x":3.2,"y":-0.42},{"x":3.3,"y":-0.3},{"x":3.4,"y":-0.05},{"x":3.46,"y":0.08},{"x":3.5,"y":0.15},{"x":3.62,"y":0.5},{"x":3.7,"y":0.6},{"x":3.78,"y":0.82},{"x":3.82,"y":0.62},{"x":3.92,"y":0.9},{"x":3.9,"y":1.12},{"x":3.96,"y":1.05},{"x":4.02,"y":1.2},{"x":3.72,"y":1.15},{"x":4.0,"y":1.75},{"x":4.05,"y":1.88},{"x":4.12,"y":1.62},{"x":4.15,"y":1.75},{"x":3.98,"y":1.85},{"x":4.02,"y":2.0},{"x":4.08,"y":2.15},{"x":4.0,"y":2.25},{"x":3.92,"y":2.25},{"x":3.88,"y":2.4},{"x":3.82,"y":2.4},{"x":3.78,"y":2.55},{"x":3.6,"y":2.68},{"x":3.62,"y":2.85},{"x":3.52,"y":2.85},{"x":3.58,"y":3.05},{"x":3.45,"y":3.0},{"x":3.45,"y":3.15},{"x":3.3,"y":3.1},{"x":3.28,"y":3.35},{"x":3.05,"y":3.38},{"x":3.0,"y":3.5},{"x":3.18,"y":3.2},{"x":3.12,"y":3.6},{"x":2.75,"y":3.6},{"x":2.82,"y":3.55},{"x":2.68,"y":3.6},{"x":2.52,"y":3.8},{"x":2.45,"y":3.75},{"x":2.3,"y":3.72},{"x":2.12,"y":3.72},{"x":2.05,"y":3.85},{"x":1.93,"y":3.75},{"x":1.95,"y":4.05},{"x":1.88,"y":3.98},{"x":1.7,"y":3.9},{"x":1.58,"y":3.85},{"x":1.42,"y":3.75},{"x":1.33,"y":3.9},{"x":1.2,"y":3.8},{"x":1.05,"y":3.78},{"x":0.88,"y":3.75},{"x":0.72,"y":3.85},{"x":0.6,"y":3.72},{"x":0.4,"y":3.72},{"x":0.4,"y":3.9},{"x":0.24,"y":3.75},{"x":0.08,"y":3.7}]
},
"layer":[
{"data":{"name":"gx"},"mark":{"type":"rule","color":"#ffffff","strokeWidth":2.4},"encoding":{"x":{"field":"x","type":"quantitative","title":"x","scale":{"domain":[-3.139,6.056],"nice":false,"zero":false},"axis":{"values":[-2,0,2,4,6],"labelExpr":"''+datum.value"}}}},
{"data":{"name":"gy"},"mark":{"type":"rule","color":"#ffffff","strokeWidth":2.4},"encoding":{"y":{"field":"y","type":"quantitative","title":"y","scale":{"domain":[-3.57,5.954],"nice":false,"zero":false},"axis":{"values":[-2,0,2,4],"labelExpr":"''+datum.value"}}}},
{"data":{"name":"core"},"mark":{"type":"area","color":"#000000","interpolate":"linear"},"encoding":{"x":{"field":"x","type":"quantitative","title":"x","scale":{"domain":[-3.139,6.056],"nice":false,"zero":false},"axis":{"values":[-2,0,2,4,6],"labelExpr":"''+datum.value"}},"y":{"field":"lo","type":"quantitative","title":"y","scale":{"domain":[-3.57,5.954],"nice":false,"zero":false},"axis":{"values":[-2,0,2,4],"labelExpr":"''+datum.value"}},"y2":{"field":"hi"}}},
{"data":{"name":"pts"},"mark":{"type":"circle","color":"#000000","opacity":1,"size":130},"encoding":{"x":{"field":"x","type":"quantitative","title":"x","scale":{"domain":[-3.139,6.056],"nice":false,"zero":false},"axis":{"values":[-2,0,2,4,6],"labelExpr":"''+datum.value"}},"y":{"field":"y","type":"quantitative","title":"y","scale":{"domain":[-3.57,5.954],"nice":false,"zero":false},"axis":{"values":[-2,0,2,4],"labelExpr":"''+datum.value"}}}},
{"data":{"name":"contours"},"mark":{"type":"line","color":"#3158ff","strokeWidth":2.6,"interpolate":"cardinal","tension":0.3},"encoding":{"x":{"field":"x","type":"quantitative","title":"x","scale":{"domain":[-3.139,6.056],"nice":false,"zero":false},"axis":{"values":[-2,0,2,4,6],"labelExpr":"''+datum.value"}},"y":{"field":"y","type":"quantitative","title":"y","scale":{"domain":[-3.57,5.954],"nice":false,"zero":false},"axis":{"values":[-2,0,2,4],"labelExpr":"''+datum.value"}},"detail":{"field":"g"},"order":{"field":"o","type":"quantitative"}}}
]}
